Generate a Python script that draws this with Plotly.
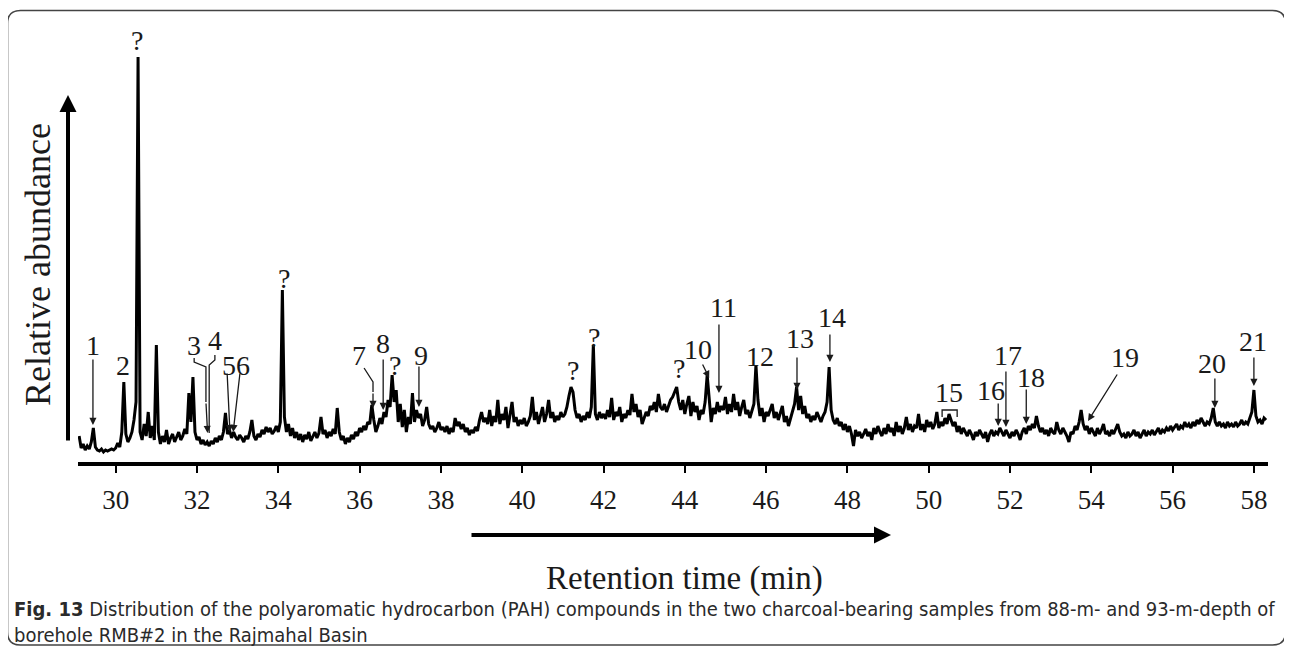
import plotly.graph_objects as go

# ---------------- data ----------------
t_start = 29.10   # retention time of first sample (min)
t_step = 0.05     # sampling interval (min)

abundance = [
    # 29.10 - 30.05
    26, 14, 18, 12, 16, 13, 20, 34, 15, 12, 11, 13, 10, 12, 11, 12, 13, 12, 14, 19,
    # 30.10 - 31.05
    15, 30, 80, 28, 20, 24, 30, 42, 60, 405, 30, 22, 38, 26, 50, 24, 36, 22, 117, 30,
    # 31.10 - 32.05
    18, 26, 20, 32, 18, 24, 28, 20, 25, 30, 22, 26, 33, 28, 69, 40, 85, 30, 22, 25,
    # 32.10 - 33.05
    18, 22, 17, 20, 16, 21, 18, 24, 20, 26, 22, 30, 49, 28, 32, 24, 30, 25, 22, 27,
    # 33.10 - 34.05
    24, 20, 26, 23, 30, 42, 26, 22, 28, 25, 32, 28, 35, 30, 34, 28, 31, 36, 30, 40,
    # 34.10 - 35.05
    172, 45, 30, 38, 26, 34, 24, 30, 22, 28, 20, 27, 23, 30, 21, 26, 30, 24, 29, 45,
    # 35.10 - 36.05
    28, 32, 24, 30, 26, 33, 28, 54, 30, 22, 26, 18, 24, 20, 27, 23, 30, 26, 34, 30,
    # 36.10 - 37.05
    36, 32, 40, 38, 57, 42, 30, 36, 44, 38, 50, 45, 62, 55, 87, 60, 72, 40, 58, 35,
    # 37.10 - 38.05
    52, 30, 45, 38, 69, 40, 52, 44, 48, 36, 42, 55, 38, 33, 36, 30, 34, 40, 32, 35,
    # 38.10 - 39.05
    30, 36, 28, 34, 30, 44, 36, 40, 33, 38, 30, 34, 27, 32, 29, 35, 31, 42, 50, 40,
    # 39.10 - 40.05
    44, 38, 52, 36, 46, 40, 62, 38, 48, 42, 55, 34, 50, 60, 40, 45, 36, 42, 38, 44,
    # 40.10 - 41.05
    36, 40, 46, 65, 42, 50, 38, 46, 55, 40, 48, 62, 44, 50, 40, 46, 42, 50, 45, 48,
    # 41.10 - 42.05
    55, 66, 75, 70, 52, 44, 48, 40, 46, 42, 50, 44, 55, 117, 48, 42, 50, 44, 48, 43,
    # 42.10 - 43.05
    52, 45, 64, 42, 50, 46, 55, 40, 48, 44, 52, 47, 68, 50, 58, 45, 52, 38, 44, 50,
    # 43.10 - 44.05
    46, 56, 52, 60, 50, 68, 55, 52, 58, 50, 56, 62, 65, 70, 75, 60, 52, 62, 48, 58,
    # 44.10 - 45.05
    66, 46, 60, 50, 56, 42, 52, 48, 60, 87, 62, 40, 54, 48, 60, 50, 56, 52, 65, 48,
    # 45.10 - 46.05
    58, 50, 68, 52, 60, 46, 55, 62, 48, 52, 44, 50, 58, 97, 62, 46, 54, 40, 50, 46,
    # 46.10 - 47.05
    52, 58, 44, 50, 42, 48, 56, 40, 46, 36, 44, 50, 58, 75, 52, 66, 48, 56, 44, 48,
    # 47.10 - 48.05
    40, 46, 42, 50, 44, 40, 46, 50, 60, 95, 52, 42, 38, 44, 36, 40, 32, 38, 30, 36,
    # 48.10 - 49.05
    28, 16, 32, 26, 30, 24, 28, 33, 26, 30, 22, 34, 28, 36, 30, 26, 34, 28, 38, 30,
    # 49.10 - 50.05
    34, 26, 40, 30, 36, 28, 34, 45, 32, 38, 30, 36, 34, 48, 32, 38, 30, 42, 35, 40,
    # 50.10 - 51.05
    33, 38, 50, 34, 40, 36, 44, 38, 48, 42, 36, 40, 30, 36, 28, 34, 30, 26, 32, 28,
    # 51.10 - 52.05
    22, 30, 26, 32, 28, 24, 30, 20, 28, 32, 26, 30, 28, 34, 30, 26, 32, 28, 24, 30,
    # 52.10 - 53.05
    26, 32, 28, 22, 30, 34, 28, 36, 32, 38, 34, 46, 36, 30, 34, 28, 32, 26, 34, 30,
    # 53.10 - 54.05
    28, 40, 32, 28, 34, 30, 26, 20, 30, 28, 36, 32, 40, 52, 38, 32, 36, 28, 34, 30,
    # 54.10 - 55.05
    26, 34, 28, 32, 38, 28, 30, 26, 32, 28, 34, 38, 30, 26, 28, 24, 30, 26, 28, 32,
    # 55.10 - 56.05
    26, 30, 24, 28, 32, 26, 30, 28, 32, 27, 30, 34, 28, 32, 30, 34, 31, 36, 32, 35,
    # 56.10 - 57.05
    38, 32, 36, 34, 40, 35, 38, 34, 40, 36, 42, 38, 44, 40, 36, 40, 38, 44, 54, 40,
    # 57.10 - 58.05
    36, 40, 36, 38, 34, 40, 36, 38, 35, 40, 36, 38, 42, 37, 40, 38, 44, 50, 72, 46,
    # 58.10 - 58.30
    40, 42, 38, 44, 42,
]

tick_values = [30, 32, 34, 36, 38, 40, 42, 44, 46, 48, 50, 52, 54, 56, 58]
tick_labels = [str(v) for v in tick_values]

# peak labels: (text, retention time, abundance level of the label)
peak_labels = [
    ("1", 29.44, 117), ("2", 30.18, 97), ("?", 30.53, 422),
    ("3", 31.93, 117), ("4", 32.44, 122), ("56", 32.96, 97),
    ("?", 34.14, 184), ("7", 35.99, 107), ("8", 36.58, 119),
    ("?", 36.87, 97), ("9", 37.52, 107), ("?", 41.25, 92),
    ("?", 41.77, 125), ("?", 43.86, 94), ("10", 44.32, 113),
    ("11", 44.94, 155), ("12", 45.85, 106), ("13", 46.83, 124),
    ("14", 47.62, 145), ("15", 50.50, 70), ("16", 51.54, 72),
    ("17", 51.95, 107), ("18", 52.52, 85), ("19", 54.83, 105),
    ("20", 56.97, 99), ("21", 57.98, 121),
]

# straight pointer arrows: (tail_t, tail_y, tip_t, tip_y)
pointer_arrows = [
    (29.44, 104, 29.44, 37),
    (32.22, 60, 32.26, 29),
    (32.74, 90, 32.81, 30),
    (33.06, 90, 32.89, 30),
    (36.33, 70, 36.33, 54),
    (36.58, 104, 36.58, 52),
    (37.46, 97, 37.46, 55),
    (44.42, 99, 44.60, 84),
    (44.84, 139, 44.84, 69),
    (46.76, 106, 46.76, 72),
    (47.57, 129, 47.57, 100),
    (51.71, 60, 51.71, 36),
    (51.90, 92, 51.90, 35),
    (52.40, 74, 52.40, 38),
    (54.66, 89, 53.92, 41),
    (57.04, 85, 57.04, 54),
    (58.00, 106, 58.00, 76),
]

# bent leader lines (no heads): lists of (t, y)
leader_lines = [
    [(31.93, 104), (31.93, 100), (32.22, 95), (32.22, 60)],
    [(32.44, 107), (32.44, 102), (32.30, 97), (32.30, 29)],
    [(36.11, 94), (36.33, 80), (36.33, 70)],
    [(50.33, 45), (50.33, 52), (50.70, 52), (50.70, 45)],
]

caption_lines = [
    "<b>Fig. 13</b> Distribution of the polyaromatic hydrocarbon (PAH) compounds "
    "in the two charcoal-bearing samples from 88-m- and 93-m-depth of",
    "borehole RMB#2 in the Rajmahal Basin",
]

# ---------------- layout geometry ----------------
# the page body keeps an 8 px default margin, so the figure is shrunk by it
OFF = 8
W, H = 1292 - OFF, 651 - OFF
SL, SR, ST, SB = 78, 1268, 12, 462   # plot-area bounds in screen pixels
PX_PER_MIN = 40.65
X_RANGE = [30 + (SL - 115.7) / PX_PER_MIN, 30 + (SR - 115.7) / PX_PER_MIN]
Y_RANGE = [0, SB - ST]


def fx(px):
    return (px - SL) / (SR - SL)


def fy(py):
    return (SB - py) / (SB - ST)


SERIF = "Liberation Serif, Times New Roman, serif"
NARROW = "Liberation Sans Narrow, Arial Narrow, DejaVu Sans Condensed, sans-serif"
INK = "#1a1a1a"

fig = go.Figure()
fig.add_trace(go.Scatter(
    x0=t_start, dx=t_step, y=abundance,
    mode="lines", line=dict(color="black", width=3),
    hoverinfo="skip", showlegend=False,
))

annotations = []
for txt, t, y in peak_labels:
    annotations.append(dict(
        x=t, y=y, xref="x", yref="y", text=txt, showarrow=False,
        font=dict(family=SERIF, size=28, color=INK),
        xanchor="center", yanchor="middle",
    ))
for t0, y0, t1, y1 in pointer_arrows:
    annotations.append(dict(
        x=t1, y=y1, ax=t0, ay=y0, xref="x", yref="y", axref="x", ayref="y",
        text="", showarrow=True, arrowhead=2, arrowsize=1.1, arrowwidth=1.3,
        arrowcolor=INK, standoff=0, startstandoff=0,
    ))

# axis arrows (tail offsets in pixels)
annotations.append(dict(
    x=fx(68), y=fy(95), ax=0, ay=442 - 95, xref="paper", yref="paper",
    axref="pixel", ayref="pixel", text="", showarrow=True, arrowhead=2,
    arrowsize=0.85, arrowwidth=4, arrowcolor="black",
))
annotations.append(dict(
    x=fx(891), y=fy(535), ax=-(891 - 470), ay=0, xref="paper", yref="paper",
    axref="pixel", ayref="pixel", text="", showarrow=True, arrowhead=2,
    arrowsize=0.85, arrowwidth=4, arrowcolor="black",
))
annotations.append(dict(
    x=fx(38), y=fy(265), xref="paper", yref="paper", text="Relative abundance",
    textangle=-90, showarrow=False, font=dict(family=SERIF, size=36, color=INK),
    xanchor="center", yanchor="middle",
))
annotations.append(dict(
    x=fx(684), y=fy(578), xref="paper", yref="paper", text="Retention time (min)",
    showarrow=False, font=dict(family=SERIF, size=33, color=INK),
    xanchor="center", yanchor="middle",
))
annotations.append(dict(
    x=fx(12), y=fy(622), xref="paper", yref="paper", xanchor="left", yanchor="middle",
    align="left", showarrow=False,
    text="<br>".join(caption_lines),
    font=dict(family=NARROW, size=20, color="#2a2a2a"),
))

shapes = []
for pts in leader_lines:
    path = "M " + " L ".join(f"{t},{y}" for t, y in pts)
    shapes.append(dict(type="path", path=path, xref="x", yref="y",
                       line=dict(color=INK, width=1.3)))

# rounded frame around the whole figure (screen pixels)
x0, x1, y0, y1, r = 7.5, 1285.5, 10.5, 645, 13


def P(px, py):
    return f"{fx(px)},{fy(py)}"


frame = (f"M {P(x0 + r, y0)} L {P(x1 - r, y0)} Q {P(x1, y0)} {P(x1, y0 + r)} "
         f"L {P(x1, y1 - r)} Q {P(x1, y1)} {P(x1 - r, y1)} "
         f"L {P(x0 + r, y1)} Q {P(x0, y1)} {P(x0, y1 - r)} "
         f"L {P(x0, y0 + r)} Q {P(x0, y0)} {P(x0 + r, y0)} Z")
shapes.append(dict(type="path", path=frame, xref="paper", yref="paper",
                   line=dict(color="#444444", width=1.6), layer="below"))

fig.update_layout(
    width=W, height=H,
    margin=dict(l=SL - OFF, r=W - (SR - OFF), t=ST - OFF, b=H - (SB - OFF), pad=0),
    paper_bgcolor="white", plot_bgcolor="white",
    showlegend=False,
    annotations=annotations, shapes=shapes,
    xaxis=dict(
        range=X_RANGE, showgrid=False, zeroline=False,
        showline=True, linewidth=3.5, linecolor="black",
        ticks="outside", ticklen=7, tickwidth=1.5, tickcolor="black",
        tickvals=tick_values, ticktext=tick_labels,
        tickfont=dict(family=SERIF, size=27, color=INK),
        ticklabelstandoff=4,
    ),
    yaxis=dict(range=Y_RANGE, visible=False),
)

fig.write_html("out.html")
